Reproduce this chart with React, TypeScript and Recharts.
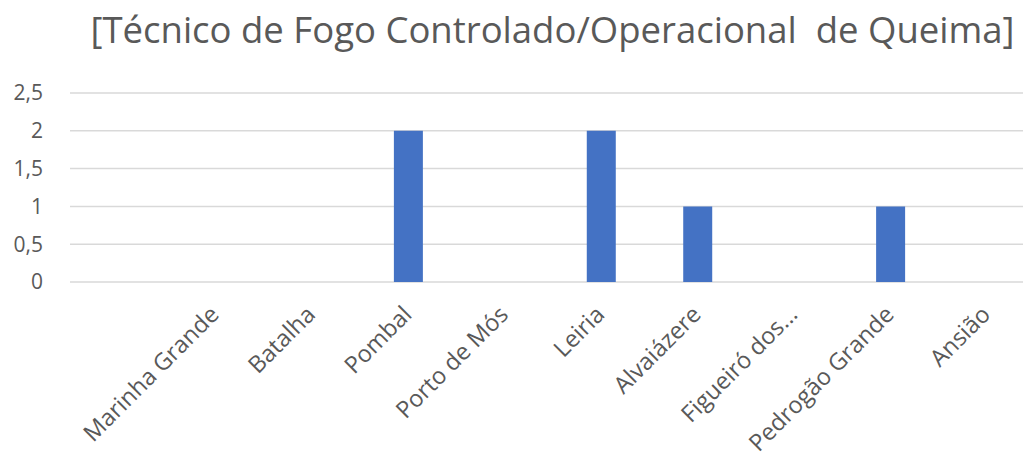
import { Bar, BarChart, CartesianGrid, XAxis, YAxis } from 'recharts'

const categories = [
  'Marinha Grande',
  'Batalha',
  'Pombal',
  'Porto de Mós',
  'Leiria',
  'Alvaiázere',
  'Figueiró dos...',
  'Pedrogão Grande',
  'Ansião',
]
const values = [0, 0, 2, 0, 2, 1, 0, 1, 0]
const yTicks = [0, 0.5, 1, 1.5, 2, 2.5]
const title = '[Técnico de Fogo Controlado/Operacional\u00a0 de Queima]'

const data = categories.map((name, i) => ({ name, value: values[i] }))

const FONT = '"Open Sans", sans-serif'
const GREY = '#595959'

function AngledTick({ x, y, payload }: any) {
  return (
    <g transform={`translate(${x + 5},${y + 26})`}>
      <text
        x={0}
        y={0}
        textAnchor="end"
        transform="rotate(-45)"
        fill={GREY}
        fontSize={23.5}
        fontFamily={FONT}
      >
        {payload.value}
      </text>
    </g>
  )
}

export default function App() {
  return (
    <div
      style={{
        position: 'fixed',
        left: 0,
        top: 0,
        width: 1023,
        height: 455,
        overflow: 'hidden',
        background: '#fff',
      }}
    >
      <div
        style={{
          position: 'absolute',
          left: 70,
          width: 965,
          top: 4,
          textAlign: 'center',
          fontFamily: FONT,
          fontSize: 36.5,
          color: GREY,
          whiteSpace: 'pre',
        }}
      >
        {title}
      </div>
      <BarChart
        width={1040}
        height={455}
        data={data}
        margin={{ top: 93, right: 5, left: 0, bottom: 143 }}
      >
        <CartesianGrid vertical={false} stroke="#d9d9d9" strokeWidth={1.5} />
        <XAxis
          dataKey="name"
          height={30}
          interval={0}
          axisLine={false}
          tickLine={false}
          padding={{ left: 97, right: 0 }}
          tick={<AngledTick />}
        />
        <YAxis
          width={70}
          domain={[0, 2.5]}
          ticks={yTicks}
          axisLine={false}
          tickLine={false}
          tickSize={0}
          tickMargin={27}
          tick={{ fill: GREY, fontSize: 21, fontFamily: FONT }}
          tickFormatter={(v: number) => String(v).replace('.', ',')}
        />
        <Bar dataKey="value" fill="#4472C4" barSize={29} isAnimationActive={false} />
      </BarChart>
    </div>
  )
}
